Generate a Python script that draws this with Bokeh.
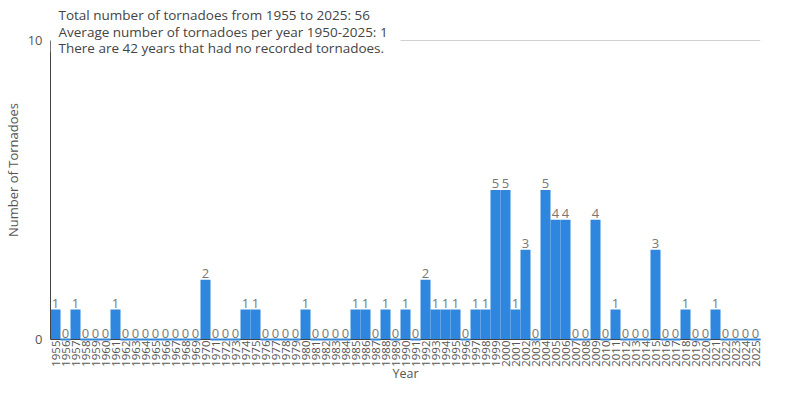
import math
from bokeh.plotting import figure
from bokeh.models import (ColumnDataSource, FixedTicker, Label, LabelSet, CDSView,
                          BooleanFilter, Range1d, FactorRange, BoxAnnotation)
from bokeh.embed import file_html
from bokeh.resources import INLINE
from bokeh.core.properties import value

# ---- data ----
years = [str(y) for y in range(1955, 2026)]
counts = [1, 0, 1, 0, 0, 0, 1,
          0, 0, 0, 0, 0, 0, 0, 0,
          2, 0, 0, 0, 1, 1,
          0, 0, 0, 0,
          1, 0, 0, 0, 0,
          1, 1, 0, 1, 0, 1, 0,
          2, 1, 1, 1, 0, 1, 1, 5, 5, 1, 3, 0,
          5, 4, 4, 0, 0, 4, 0, 1,
          0, 0, 0, 3, 0, 0, 1, 0, 0, 1,
          0, 0, 0, 0]
y_ticks = [0, 10]
info_lines = ["Total number of tornadoes from 1955 to 2025: 56",
              "Average number of tornadoes per year 1950-2025: 1",
              "There are 42 years that had no recorded tornadoes."]

BLUE = "#2E86DE"
FONT = "Open Sans"
Y_TOP = 11.333   # room above the 10 line for the info text

src = ColumnDataSource(data=dict(year=years, count=counts,
                                 label=[str(c) for c in counts]))

p = figure(x_range=FactorRange(factors=years), y_range=Range1d(0, Y_TOP),
           width=794, height=384, output_backend="svg", toolbar_location=None,
           min_border=0, min_border_left=50, min_border_right=34,
           min_border_top=0, min_border_bottom=44)
p.outline_line_color = None
p.background_fill_color = "white"

p.vbar(x="year", top="count", width=1.0, source=src,
       fill_color=BLUE, line_color=None)

zero_view = CDSView(filter=BooleanFilter([c == 0 for c in counts]))
zr = p.vbar(x="year", bottom=0, top="count", width=1.0, source=src, view=zero_view,
            fill_color=BLUE, line_color=BLUE, line_width=2)
zr.level = "overlay"

labels = LabelSet(x="year", y="count", text="label", source=src, y_offset=2,
                  text_align="center", text_baseline="bottom",
                  text_font_size="13px", text_color="#777777",
                  text_font=value(FONT))
p.add_layout(labels)

# axes
p.xgrid.visible = False
p.yaxis.ticker = FixedTicker(ticks=y_ticks)
p.yaxis.bounds = (0, 10)
p.ygrid.grid_line_color = "#d0d0d0"
for ax in (p.xaxis[0], p.yaxis[0]):
    ax.major_tick_line_color = None
    ax.minor_tick_line_color = None
    ax.major_tick_out = 0
    ax.major_tick_in = 0
    ax.minor_tick_out = 0
    ax.minor_tick_in = 0
    ax.axis_line_color = "#444444"
    ax.major_label_text_font = FONT
    ax.major_label_text_color = "#555555"
    ax.axis_label_text_font = FONT
    ax.axis_label_text_font_style = "normal"
    ax.axis_label_text_color = "#555555"

p.yaxis.major_label_text_font_size = "13px"
p.yaxis.axis_label_text_font_size = "13px"
p.xaxis.major_label_text_font_size = "11.5px"
p.xaxis.axis_label_text_font_size = "12.5px"

p.xaxis.axis_label = "Year"
p.yaxis.axis_label = "Number of Tornadoes"
p.xaxis.major_label_orientation = math.pi / 2
p.xaxis.major_label_standoff = 1
p.xaxis.axis_label_standoff = -5
p.yaxis.major_label_standoff = 8
p.yaxis.axis_label_standoff = 3

# info box
p.add_layout(BoxAnnotation(left=0, right=35, bottom=9.6, top=10.4,
                           fill_color="white", fill_alpha=1.0, line_color=None))
p.add_layout(Label(x=0, y=10, x_offset=8, y_offset=34, text="\n".join(info_lines),
                   anchor="top_left", text_font=FONT, text_font_size="13.5px",
                   text_color="#444444", text_line_height=0.92))

open("out.html", "w").write(file_html(p, INLINE))
